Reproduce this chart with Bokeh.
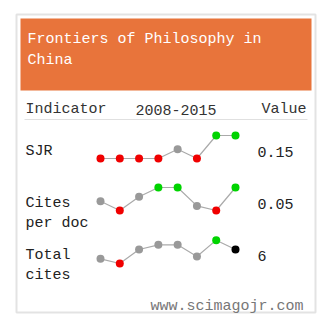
from bokeh.plotting import figure
from bokeh.models import Range1d
from bokeh.core.properties import value
from bokeh.embed import file_html
from bokeh.resources import INLINE

# ---- data ----
title_lines = ["Frontiers of Philosophy in", "China"]
header = ["Indicator", "2008-2015", "Value"]
years = [2008, 2009, 2010, 2011, 2012, 2013, 2014, 2015]
sjr = [0.10, 0.10, 0.10, 0.10, 0.12, 0.10, 0.15, 0.15]
sjr_trend = ["down", "down", "down", "down", "flat", "down", "up", "up"]
cites_per_doc = [0.02, 0.00, 0.03, 0.05, 0.05, 0.01, 0.00, 0.05]
cpd_trend = ["flat", "down", "flat", "up", "up", "flat", "down", "up"]
total_cites = [2, 0, 6, 8, 8, 3, 10, 6]
tc_trend = ["flat", "down", "flat", "flat", "flat", "flat", "up", "last"]
row_labels = [["SJR"], ["Cites", "per doc"], ["Total", "cites"]]
row_values = ["0.15", "0.05", "6"]
footer = "www.scimagojr.com"

W, H = 328, 336
FONT = value("Liberation Mono")
FS = "15px"
trend_colors = {"down": "#f00000", "up": "#00d400", "flat": "#999999", "last": "#000000"}

p = figure(width=W, height=H, output_backend="svg", toolbar_location=None,
           x_range=Range1d(0, W), y_range=Range1d(H, 0), min_border=0)
p.axis.visible = False
p.grid.visible = False
p.outline_line_color = None
p.background_fill_color = "white"
p.border_fill_color = "white"

# card
p.quad(left=16, right=315, top=14, bottom=312, fill_color="white",
       line_color="#e3e3e3", line_width=2)
p.quad(left=20, right=311, top=18, bottom=90, fill_color="#e8743b", line_color=None)
for i, t in enumerate(title_lines):
    p.text(x=[27], y=[39 + 21 * i], text=[t], text_font=FONT, text_font_size=FS,
           text_color="white", text_baseline="alphabetic")

# header row
p.text(x=[25], y=[109], text=[header[0]], text_font=FONT, text_font_size=FS,
       text_color="#333333", text_baseline="alphabetic")
p.text(x=[135], y=[109], text=[header[1]], text_font=FONT, text_font_size=FS,
       text_color="#333333", text_baseline="alphabetic")
p.text(x=[306], y=[109], text=[header[2]], text_font=FONT, text_font_size=FS,
       text_color="#333333", text_baseline="alphabetic", text_align="right")
p.segment(x0=[24], x1=[307], y0=[119], y1=[119], line_color="#e0e0e0", line_width=1)


def lin_range(v0, p0, v1, p1, pix_start, pix_end):
    k = (v1 - v0) / (p1 - p0)
    return Range1d(v0 + (pix_start - p0) * k, v0 + (pix_end - p0) * k)


# x range for years: 2008 -> px 100, 2015 -> px 235
p.extra_x_ranges = {"yr": lin_range(2008, 100, 2015, 235, 0, W)}
p.extra_y_ranges = {
    "sjr": lin_range(0.10, 158, 0.15, 135, H, 0),
    "cpd": lin_range(0.0, 210, 0.05, 187, H, 0),
    "tc": lin_range(0, 263, 6, 249, H, 0),
}

series = [("sjr", sjr, sjr_trend), ("cpd", cites_per_doc, cpd_trend), ("tc", total_cites, tc_trend)]
for name, vals, trend in series:
    p.line(years, vals, x_range_name="yr", y_range_name=name, line_color="#aaaaaa", line_width=1.2)
    p.scatter(years, vals, x_range_name="yr", y_range_name=name, size=8,
              fill_color=[trend_colors[t] for t in trend], line_color=None)

label_base = [151, 203, 255]
for base, lines, v in zip(label_base, row_labels, row_values):
    for j, t in enumerate(lines):
        p.text(x=[25], y=[base + 20 * j], text=[t], text_font=FONT, text_font_size=FS,
               text_color="#222222", text_baseline="alphabetic")
    p.text(x=[257], y=[base], text=[v], text_font=FONT, text_font_size=FS,
           text_color="#222222", text_baseline="alphabetic")

p.text(x=[303], y=[306], text=[footer], text_font=FONT, text_font_size=FS,
       text_color="#777777", text_baseline="alphabetic", text_align="right")

open("out.html", "w").write(file_html(p, INLINE))
